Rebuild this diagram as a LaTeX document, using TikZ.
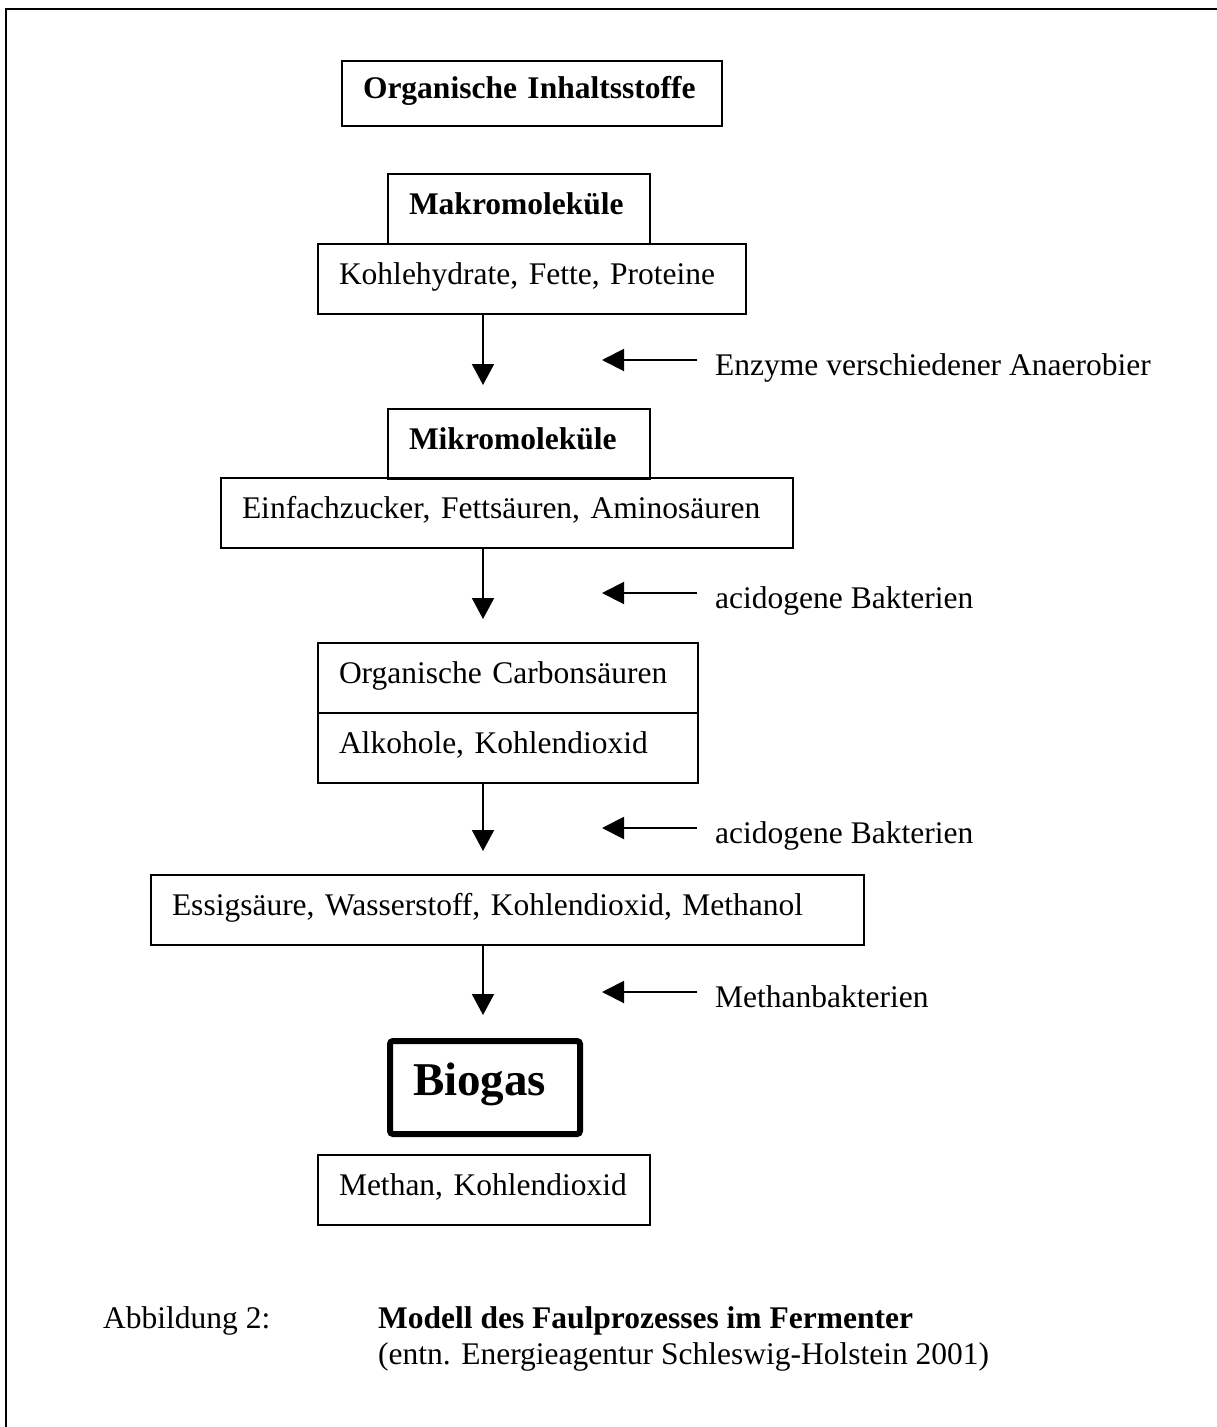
\documentclass[tikz,border=0pt]{standalone}
\usepackage{fontspec}
\setmainfont{Liberation Serif}
\usetikzlibrary{arrows.meta, positioning}

\newcommand{\grund}{\fontsize{31.5}{37}\selectfont}
\newcommand{\gross}{\fontsize{47}{54}\selectfont\bfseries}

\tikzset{
  stoff/.style={draw, line width=2pt, anchor=north west, inner xsep=21pt, inner ysep=0pt,
    text height=40pt, text depth=30pt, align=left, font=\grund},
  kopf/.style={stoff, font=\grund\bfseries},
  pfeil/.style={line width=2pt, -{Triangle[length=21pt,width=22pt]}, shorten >=23pt},
  zufuhr/.style={line width=2pt, -{Triangle[length=22pt,width=22pt]}, shorten <=18pt},
  erreger/.style={anchor=base west, inner sep=0pt, font=\grund},
}

\begin{document}
\begin{tikzpicture}[x=1pt, y=-1pt]
  \useasboundingbox (0,0) rectangle (1217,1427);
  % Rahmen
  \draw[line width=2pt] (6,1427) -- (6,9) -- (1217,9);

  % Stoffe
  \node[kopf, text width=338pt, text height=37pt, text depth=28pt] (org) at (341,60) {Organische Inhaltsstoffe};
  \node[kopf, text width=220pt] (makro) at (387,173) {Makromoleküle};
  \node[stoff, text width=386pt] (kohle) at (317,243) {Kohlehydrate, Fette, Proteine};
  \node[kopf, text width=220pt] (mikro) at (387,408) {Mikromoleküle};
  \node[stoff, text width=530pt] (einfach) at (220,477) {Einfachzucker, Fettsäuren, Aminosäuren};
  \node[stoff, text width=338pt] (carbon) at (317,642) {Organische Carbonsäuren};
  \node[stoff, text width=338pt] (alkohol) at (317,712) {Alkohole, Kohlendioxid};
  \node[stoff, text width=671pt] (essig) at (150,874) {Essigsäure, Wasserstoff, Kohlendioxid, Methanol};
  \node[stoff, font=\gross, line width=6pt, rounded corners=3pt, inner xsep=23pt,
    text width=144pt, text height=54pt, text depth=39pt] (biogas) at (387,1038) {Biogas};
  \node[stoff, text width=290pt] (methan) at (317,1154) {Methan, Kohlendioxid};

  % Abbau
  \coordinate (achse) at (483,0);
  \draw[pfeil] (kohle.south -| achse) -- (mikro.north -| achse);
  \draw[pfeil] (einfach.south -| achse) -- (carbon.north -| achse);
  \draw[pfeil] (alkohol.south -| achse) -- (essig.north -| achse);
  \draw[pfeil] (essig.south -| achse) -- (biogas.north -| achse);

  % Erreger
  \node[erreger] (enzyme) at (715,375) {Enzyme verschiedener Anaerobier};
  \node[erreger] (acido1) at (715,608) {acidogene Bakterien};
  \node[erreger] (acido2) at (715,843) {acidogene Bakterien};
  \node[erreger] (methanb) at (715,1007) {Methanbakterien};
  \coordinate (s1) at (602,360);
  \coordinate (s2) at (602,593);
  \coordinate (s3) at (602,828);
  \coordinate (s4) at (602,992);
  \draw[zufuhr] (s1 -| enzyme.west) -- (s1);
  \draw[zufuhr] (s2 -| acido1.west) -- (s2);
  \draw[zufuhr] (s3 -| acido2.west) -- (s3);
  \draw[zufuhr] (s4 -| methanb.west) -- (s4);

  % Bildunterschrift
  \node[anchor=base west, inner sep=0pt, font=\grund] (abb) at (103,1328) {Abbildung 2:};
  \node[anchor=base west, inner sep=0pt, font=\grund\bfseries] (titel) at (378,1328) {Modell des Faulprozesses im Fermenter};
  \node[anchor=base west, inner sep=0pt, font=\grund] (quelle) at (378,1364) {(entn. Energieagentur Schleswig-Holstein 2001)};
\end{tikzpicture}
\end{document}
